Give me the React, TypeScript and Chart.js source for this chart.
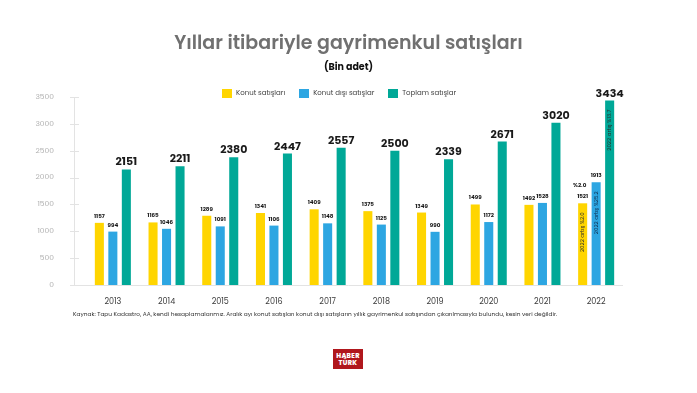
import React, { useEffect, useRef } from "react";
import { Chart, registerables } from "chart.js";

Chart.register(...registerables);

const years = ["2013", "2014", "2015", "2016", "2017", "2018", "2019", "2020", "2021", "2022"];
const konut = [1157, 1165, 1289, 1341, 1409, 1375, 1349, 1499, 1492, 1521];
const konutDisi = [994, 1046, 1091, 1106, 1148, 1125, 990, 1172, 1528, 1913];
const toplam = [2151, 2211, 2380, 2447, 2557, 2500, 2339, 2671, 3020, 3434];
const yTicks = [0, 500, 1000, 1500, 2000, 2500, 3000, 3500];
const seriesNames = ["Konut satışları", "Konut dışı satışlar", "Toplam satışlar"];
const inBarNotes = ["2022 artış %2.0", "2022 artış %25.2", "2022 artış %13.7"];
const extraNote = "%2.0";

const COLORS = ["#FFD500", "#2DA6E2", "#00A897"];
const FONT = "Poppins, 'Noto Sans', 'Open Sans', sans-serif";

const axisPlugin = {
  id: "customAxis",
  beforeDatasetsDraw(chart: any) {
    const { ctx, chartArea, scales } = chart;
    const y = scales.y;
    const axisX = chartArea.left - 12;
    ctx.save();
    ctx.strokeStyle = "#e3e3e3";
    ctx.lineWidth = 1;
    ctx.beginPath();
    ctx.moveTo(axisX + 0.5, y.getPixelForValue(3500));
    ctx.lineTo(axisX + 0.5, y.getPixelForValue(0));
    ctx.stroke();
    yTicks.forEach((t) => {
      const py = Math.round(y.getPixelForValue(t)) + 0.5;
      ctx.beginPath();
      ctx.moveTo(axisX - 4, py);
      ctx.lineTo(axisX + 5, py);
      ctx.stroke();
    });
    ctx.beginPath();
    const by = Math.round(y.getPixelForValue(0)) + 0.5;
    ctx.moveTo(axisX, by);
    ctx.lineTo(chartArea.right, by);
    ctx.stroke();
    ctx.restore();
  },
};

const labelPlugin = {
  id: "barLabels",
  afterDatasetsDraw(chart: any) {
    const { ctx } = chart;
    ctx.save();
    ctx.textAlign = "center";
    ctx.textBaseline = "alphabetic";
    chart.data.datasets.forEach((ds: any, di: number) => {
      const meta = chart.getDatasetMeta(di);
      meta.data.forEach((bar: any, i: number) => {
        const v = ds.data[i];
        if (di === 2) {
          ctx.font = `bold 11px ${FONT}`;
          ctx.fillStyle = "#1a1a1a";
          ctx.fillText(String(v), bar.x, bar.y - 4);
        } else {
          ctx.font = `bold 5.6px ${FONT}`;
          ctx.fillStyle = "#1a1a1a";
          ctx.fillText(String(v), bar.x, bar.y - 5);
          if (di === 0 && i === years.length - 1) {
            ctx.fillText(extraNote, bar.x - 3, bar.y - 16);
          }
        }
        if (i === years.length - 1) {
          ctx.save();
          ctx.translate(bar.x, bar.y + 9);
          ctx.rotate(-Math.PI / 2);
          ctx.textAlign = "right";
          ctx.textBaseline = "middle";
          ctx.font = `5.5px ${FONT}`;
          ctx.fillStyle = di === 1 ? "#0d2a4a" : "#2b2b2b";
          ctx.fillText(inBarNotes[di], 0, 0);
          ctx.restore();
        }
      });
    });
    ctx.restore();
  },
};

export default function App() {
  const ref = useRef<HTMLCanvasElement | null>(null);
  useEffect(() => {
    if (!ref.current) return;
    const chart = new Chart(ref.current, {
      type: "bar",
      data: {
        labels: years,
        datasets: [
          { label: seriesNames[0], data: konut, backgroundColor: COLORS[0] },
          { label: seriesNames[1], data: konutDisi, backgroundColor: COLORS[1] },
          { label: seriesNames[2], data: toplam, backgroundColor: COLORS[2] },
        ],
      },
      options: {
        animation: false,
        responsive: false,
        maintainAspectRatio: false,
        layout: { padding: { left: 0, right: 74, top: 97, bottom: 0 } },
        datasets: { bar: { categoryPercentage: 0.754, barPercentage: 0.67 } },
        plugins: {
          legend: { display: false },
          title: { display: false },
          tooltip: { enabled: false },
        },
        scales: {
          x: {
            grid: { display: false },
            border: { display: false },
            ticks: { color: "#3a3a3a", font: { family: FONT, size: 8 }, padding: 4 },
            afterFit(scale: any) {
              scale.height = 108;
            },
          },
          y: {
            min: 0,
            max: 3500,
            grid: { display: false },
            border: { display: false },
            afterBuildTicks(scale: any) {
              scale.ticks = yTicks.map((v) => ({ value: v }));
            },
            ticks: {
              color: "#b0b0b0",
              font: { family: FONT, size: 7.5 },
              padding: 24,
              callback: (v: any) => String(v),
            },
            afterFit(scale: any) {
              scale.width = 86;
            },
          },
        },
      },
      plugins: [axisPlugin, labelPlugin],
    });
    return () => chart.destroy();
  }, []);

  const legendItem = (i: number) => (
    <div key={i} style={{ display: "flex", alignItems: "center", marginRight: i < 2 ? 14 : 0 }}>
      <div style={{ width: 10, height: 9, background: COLORS[i], marginRight: 4 }} />
      <span style={{ fontSize: 7, color: "#444" }}>{seriesNames[i]}</span>
    </div>
  );

  return (
    <div
      style={{
        position: "fixed",
        left: 0,
        top: 0,
        width: 697,
        height: 393,
        background: "#fff",
        fontFamily: FONT,
        overflow: "hidden",
      }}
    >
      <canvas ref={ref} width={697} height={393} style={{ position: "absolute", left: 0, top: 0 }} />
      <div
        style={{
          position: "absolute",
          left: 0,
          width: 697,
          top: 30,
          textAlign: "center",
          fontSize: 19,
          fontWeight: 600,
          color: "#707070",
          lineHeight: "26px",
        }}
      >
        Yıllar itibariyle gayrimenkul satışları
      </div>
      <div
        style={{
          position: "absolute",
          left: 0,
          width: 697,
          top: 60,
          textAlign: "center",
          fontSize: 9.5,
          fontWeight: 700,
          color: "#111",
          lineHeight: "14px",
        }}
      >
        (Bin adet)
      </div>
      <div
        style={{
          position: "absolute",
          left: 222,
          top: 88,
          display: "flex",
          alignItems: "center",
          height: 10,
        }}
      >
        {[0, 1, 2].map(legendItem)}
      </div>
      <div
        style={{
          position: "absolute",
          left: 73,
          top: 310,
          fontSize: 5.85,
          color: "#333",
          whiteSpace: "nowrap",
          lineHeight: "8px",
        }}
      >
        Kaynak: Tapu Kadastro, AA, kendi hesaplamalarımız. Aralık ayı konut satışları konut dışı satışların yıllık gayrimenkul satışından çıkarılmasıyla bulundu, kesin veri değildir.
      </div>
      <div
        style={{
          position: "absolute",
          left: 333,
          top: 349,
          width: 30,
          height: 20,
          background: "#b0171d",
          color: "#fff",
          fontWeight: 800,
          fontSize: 6.5,
          lineHeight: "7px",
          display: "flex",
          flexDirection: "column",
          alignItems: "center",
          justifyContent: "center",
          letterSpacing: 0.3,
        }}
      >
        <span>HABER</span>
        <span>TÜRK</span>
      </div>
    </div>
  );
}
